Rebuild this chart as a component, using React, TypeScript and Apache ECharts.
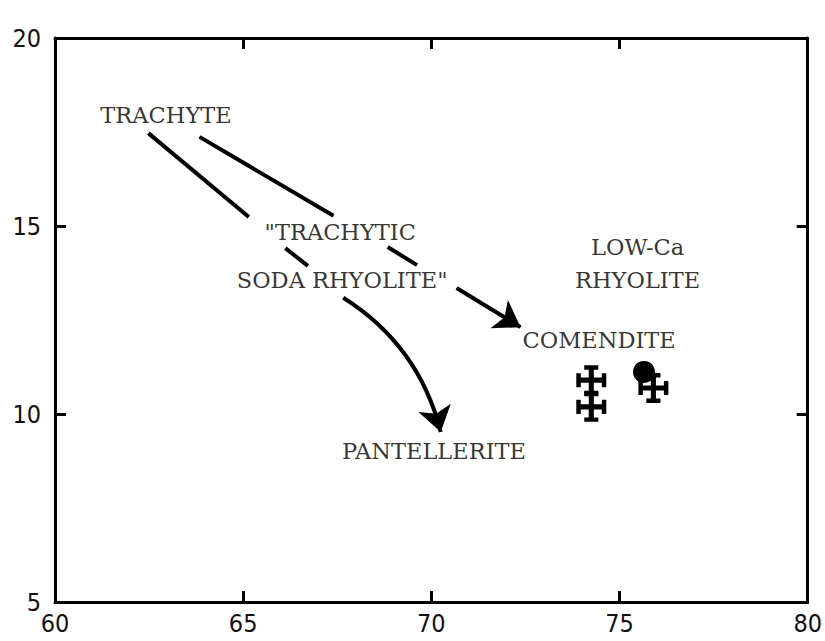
import React, { useEffect, useRef } from "react";
import * as echarts from "echarts";

const xRange = [60, 80];
const yRange = [5, 20];
const tickStep = 5;

const circlePoints = [[75.65, 11.12]];
const crossPoints = [
  [74.25, 10.9],
  [74.25, 10.19],
  [75.9, 10.69],
];

const labelTexts = ['TRACHYTE', '"TRACHYTIC', 'SODA RHYOLITE"', 'LOW-Ca', 'RHYOLITE', 'COMENDITE', 'PANTELLERITE'];
const labelPositions = [
  [62.95, 17.95],
  [67.58, 14.84],
  [67.63, 13.56],
  [75.48, 14.44],
  [75.48, 13.56],
  [74.46, 11.97],
  [70.07, 9.02],
];

const plainSegments = [
  [[62.48, 17.47], [65.15, 15.24]],
  [[63.84, 17.37], [67.4, 15.27]],
  [[66.12, 14.41], [66.72, 13.94]],
  [[68.84, 14.44], [69.62, 13.96]],
];
const arrowStraight = [[[70.67, 13.35], [72.37, 12.31]]];
const arrowCurved = [[[67.66, 13.09], [70.25, 9.52]]];

const crossPath =
  "path://M42 10 H58 V90 H42 Z M10 42 H90 V58 H10 Z M28 3 H72 V17 H28 Z M28 83 H72 V97 H28 Z M3 28 H17 V72 H3 Z M83 28 H97 V72 H83 Z";

export default function App() {
  const ref = useRef<HTMLDivElement>(null);
  useEffect(() => {
    if (!ref.current) return;
    const chart = echarts.init(ref.current, null, { renderer: "svg" });
    const axisLine = { show: true, onZero: false, lineStyle: { color: "#000", width: 3 } };
    const tick = { show: true, inside: true, length: 11, lineStyle: { color: "#000", width: 3 } };
    const labelFont = { fontFamily: "DejaVu Sans Condensed", fontSize: 25, color: "#111" };
    chart.setOption({
      animation: false,
      backgroundColor: "#fff",
      grid: { left: 55, right: 5, top: 38, bottom: 39 },
      xAxis: [
        {
          type: "value", min: xRange[0], max: xRange[1], interval: tickStep, position: "bottom",
          axisLine, axisTick: tick, splitLine: { show: false },
          axisLabel: { ...labelFont, margin: 9 },
        },
        {
          type: "value", min: xRange[0], max: xRange[1], interval: tickStep, position: "top",
          axisLine, axisTick: tick, splitLine: { show: false }, axisLabel: { show: false },
        },
      ],
      yAxis: [
        {
          type: "value", min: yRange[0], max: yRange[1], interval: tickStep, position: "left",
          axisLine, axisTick: tick, splitLine: { show: false },
          axisLabel: { ...labelFont, margin: 14 },
        },
        {
          type: "value", min: yRange[0], max: yRange[1], interval: tickStep, position: "right",
          axisLine, axisTick: tick, splitLine: { show: false }, axisLabel: { show: false },
        },
      ],
      series: [
        {
          type: "lines", coordinateSystem: "cartesian2d", xAxisIndex: 0, yAxisIndex: 0,
          symbol: ["none", "none"],
          lineStyle: { color: "#000", width: 4, opacity: 1 },
          data: plainSegments.map((c) => ({ coords: c })),
        },
        {
          type: "lines", coordinateSystem: "cartesian2d", xAxisIndex: 0, yAxisIndex: 0,
          symbol: ["none", "arrow"], symbolSize: 25,
          lineStyle: { color: "#000", width: 4, opacity: 1 },
          data: arrowStraight.map((c) => ({ coords: c })),
        },
        {
          type: "lines", coordinateSystem: "cartesian2d", xAxisIndex: 0, yAxisIndex: 0,
          symbol: ["none", "arrow"], symbolSize: 25,
          lineStyle: { color: "#000", width: 4, opacity: 1, curveness: 0.2 },
          data: arrowCurved.map((c) => ({ coords: c })),
        },
        {
          type: "scatter", xAxisIndex: 0, yAxisIndex: 0,
          symbol: crossPath, symbolSize: 30, itemStyle: { color: "#000", opacity: 1 },
          data: crossPoints,
        },
        {
          type: "scatter", xAxisIndex: 0, yAxisIndex: 0,
          symbol: "circle", symbolSize: 22, itemStyle: { color: "#000", opacity: 1 },
          data: circlePoints,
        },
        {
          type: "scatter", xAxisIndex: 0, yAxisIndex: 0,
          symbolSize: 1, itemStyle: { color: "rgba(0,0,0,0)" },
          label: {
            show: true, position: "inside",
            formatter: (p: any) => labelTexts[p.dataIndex],
            fontFamily: "DejaVu Serif", fontSize: 22.5, color: "#000",
          },
          data: labelPositions,
        },
      ],
    });
    return () => chart.dispose();
  }, []);
  return <div ref={ref} style={{ position: "fixed", left: 0, top: 0, width: 825, height: 641 }} />;
}
